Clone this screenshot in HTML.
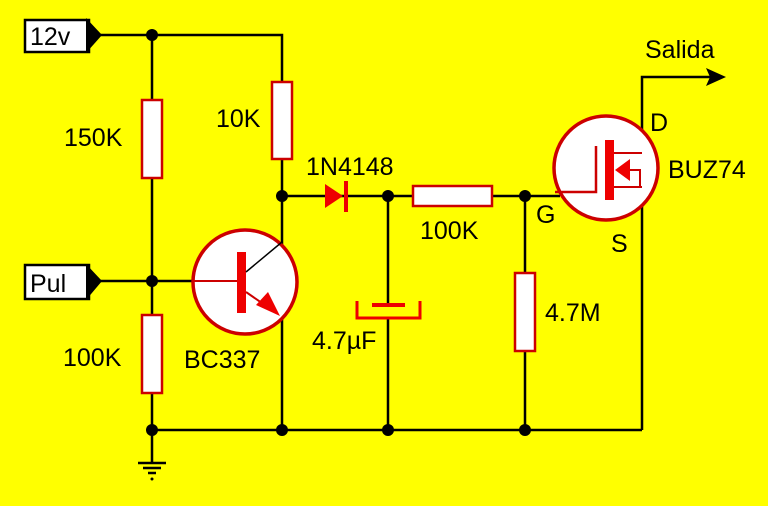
<!DOCTYPE html>
<html><head><meta charset="utf-8"><style>
html,body{margin:0;padding:0;background:#ffff00;}
svg{display:block;}
text{font-family:"Liberation Sans",sans-serif;font-size:25px;fill:#000;}
</style></head><body>
<svg width="768" height="506" viewBox="0 0 768 506" xmlns="http://www.w3.org/2000/svg">
<rect width="768" height="506" fill="#ffff00"/>
<g stroke="#000" stroke-width="2.5" fill="none">
<polyline points="100,35 282,35 282,430"/>
<line x1="152" y1="35" x2="152" y2="462"/>
<line x1="100" y1="281" x2="200" y2="281"/>
<line x1="282" y1="196" x2="413" y2="196"/>
<line x1="492" y1="196" x2="560" y2="196"/>
<line x1="388" y1="196" x2="388" y2="305"/>
<line x1="388" y1="318" x2="388" y2="430"/>
<line x1="525" y1="196" x2="525" y2="430"/>
<line x1="152" y1="430" x2="642" y2="430"/>
<polyline points="710,77 642,77 642,430"/>
<line x1="138" y1="463" x2="166" y2="463"/>
<line x1="143" y1="468" x2="161" y2="468"/>
<line x1="148" y1="473" x2="156" y2="473"/>
</g>
<circle cx="152" cy="479" r="1.5" fill="#000"/>
<g fill="#000">
<circle cx="152" cy="35" r="6"/><circle cx="152" cy="281" r="6"/><circle cx="152" cy="430" r="6"/>
<circle cx="282" cy="196" r="6"/><circle cx="282" cy="430" r="6"/>
<circle cx="388" cy="196" r="6"/><circle cx="388" cy="430" r="6"/>
<circle cx="525" cy="196" r="6"/><circle cx="525" cy="430" r="6"/>
<polygon points="706,68 726,77 706,86 710,77"/>
</g>
<rect x="25" y="20" width="64" height="32" fill="#fff" stroke="#000" stroke-width="2.5"/>
<polygon points="86,18 102,35 86,53" fill="#000"/>
<text x="30" y="45" font-size="25">12v</text>
<rect x="25" y="265" width="64" height="34" fill="#fff" stroke="#000" stroke-width="2.5"/>
<polygon points="86,264 102,281 86,300" fill="#000"/>
<text x="30" y="292" font-size="25">Pul</text>
<g fill="#fff" stroke="#c00" stroke-width="2.5">
<rect x="142" y="100" width="20" height="78"/>
<rect x="272" y="82" width="20" height="77"/>
<rect x="142" y="315" width="20" height="78"/>
<rect x="413" y="186" width="79" height="20"/>
<rect x="515" y="273" width="20" height="78"/>
</g>
<polygon points="325,184 325,208 343,196" fill="#e00"/>
<rect x="344" y="181" width="4" height="31" fill="#e00"/>
<rect x="372" y="303" width="33" height="4" fill="#e00"/>
<polyline points="357,301 357,318 420,318 420,301" fill="none" stroke="#e00" stroke-width="3"/>
<circle cx="245" cy="282" r="52" fill="#fff" stroke="#c00" stroke-width="3.5"/>
<line x1="194" y1="281" x2="238" y2="281" stroke="#c00" stroke-width="2"/>
<rect x="237" y="252" width="9" height="61" fill="#e00"/>
<line x1="246" y1="272" x2="282" y2="242" stroke="#000" stroke-width="1.5"/>
<line x1="246" y1="292" x2="272" y2="310" stroke="#c00" stroke-width="2"/>
<polygon points="280,316 256,305 268,292" fill="#e00"/>
<circle cx="606" cy="168" r="52" fill="#fff" stroke="#c00" stroke-width="3.5"/>
<polyline points="555,192 596,192 596,146" fill="none" stroke="#c00" stroke-width="2.5"/>
<rect x="605" y="140" width="9" height="60" fill="#e00"/>
<g stroke="#c00" stroke-width="2" fill="none">
<polyline points="614,153 642,153"/>
<polyline points="628,170 640,170 640,187"/>
<polyline points="614,187 642,187"/>
</g>
<polygon points="615,170 630,159 630,181" fill="#e00"/>
<text x="64" y="146">150K</text>
<text x="216" y="127">10K</text>
<text x="306" y="175">1N4148</text>
<text x="420" y="239">100K</text>
<text x="536" y="223">G</text>
<text x="650" y="131">D</text>
<text x="668" y="178">BUZ74</text>
<text x="611" y="252">S</text>
<text x="545" y="321">4.7M</text>
<text x="63" y="366">100K</text>
<text x="184" y="368">BC337</text>
<text x="312" y="349">4.7µF</text>
<text x="645" y="58" font-size="22">Salida</text>
</svg>
</body></html>
